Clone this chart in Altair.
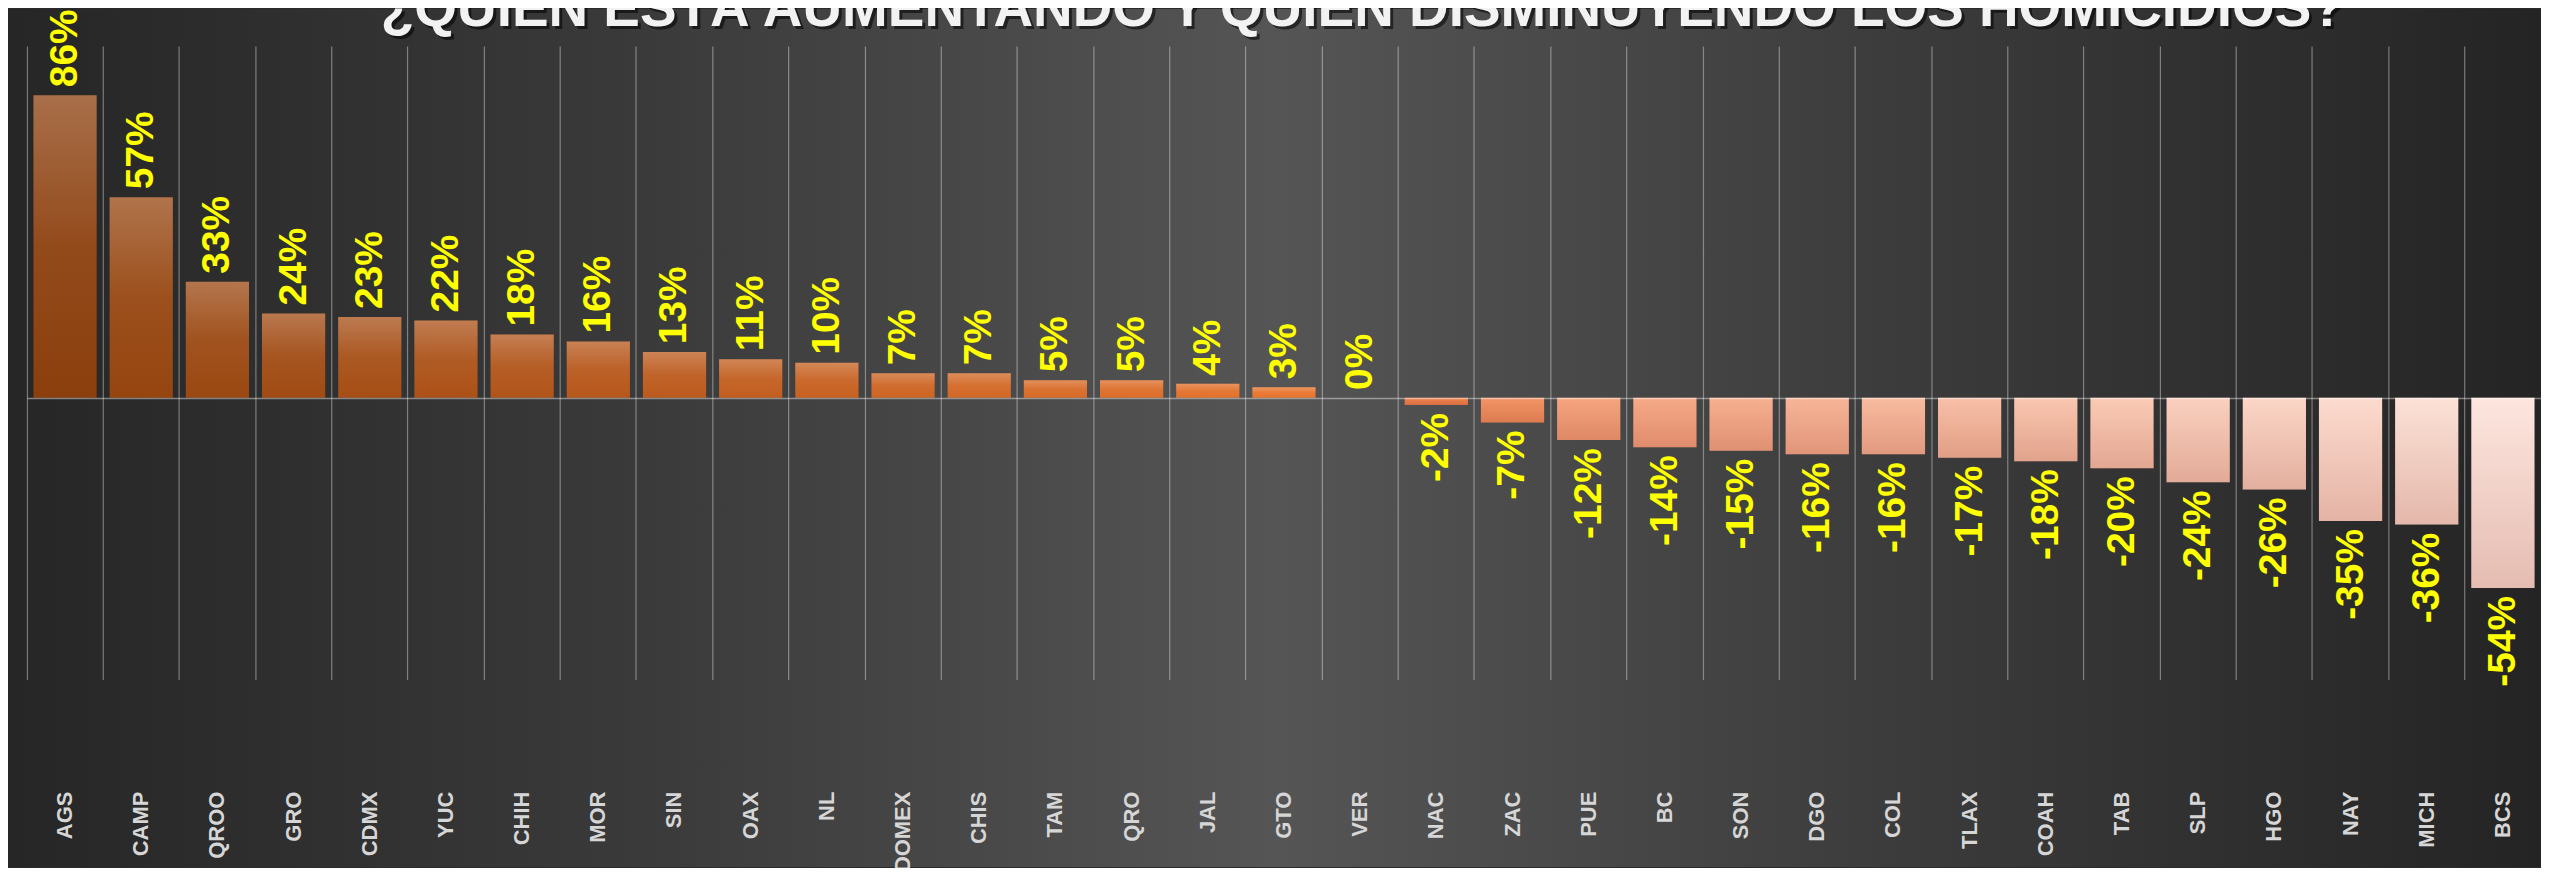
import altair as alt
import pandas as pd

# ---- data ----
states = ["AGS", "CAMP", "QROO", "GRO", "CDMX", "YUC", "CHIH", "MOR", "SIN", "OAX",
          "NL", "EDOMEX", "CHIS", "TAM", "QRO", "JAL", "GTO", "VER", "NAC", "ZAC",
          "PUE", "BC", "SON", "DGO", "COL", "TLAX", "COAH", "TAB", "SLP", "HGO",
          "NAY", "MICH", "BCS"]
values = [86, 57, 33, 24, 23, 22, 18, 16, 13, 11,
          10, 7, 7, 5, 5, 4, 3, 0, -2, -7,
          -12, -14, -15, -16, -16, -17, -18, -20, -24, -26,
          -35, -36, -54]
title_text = "¿QUIÉN ESTÁ AUMENTANDO Y QUIÉN DISMINUYENDO LOS HOMICIDIOS?"

# colour ramp by position in the ranking
rank_domain = [1, 2, 17, 18, 19, 20, 21, 33]
rank_colors = ["#8c3f0d", "#96450f", "#e8732c", "#ec7a38",
               "#ef8450", "#f29565", "#f5a57f", "#fde6de"]

df = pd.DataFrame({"state": states, "value": values})
df["rank"] = list(range(1, len(states) + 1))

FONT = "Liberation Sans"
W, H = 2520, 635
PAD_L, PAD_T, PAD_B = 19, 37, 188

grid_kw = dict(gridColor="#ffffff", gridOpacity=0.38, gridWidth=1.2, zindex=1)

base = alt.Chart(df).transform_calculate(
    label="datum.value + '%'"
).encode(
    x=alt.X("state:N", sort=states,
            scale=alt.Scale(paddingInner=0.17, paddingOuter=0.085),
            axis=alt.Axis(title=None, bandPosition=-0.1024, labelOffset=0,
                          grid=True, ticks=False, domain=False,
                          labelAngle=270, labelAlign="right", labelBaseline="middle",
                          labelPadding=112, labelFont=FONT, labelFontSize=22,
                          labelFontWeight="bold", labelColor="#d6d6d6",
                          labelOverlap=False, labelBound=False, labelFlush=False,
                          **grid_kw)),
    y=alt.Y("value:Q", scale=alt.Scale(domain=[-80, 100], nice=False),
            axis=alt.Axis(title=None, values=[0], grid=True, labels=False,
                          ticks=False, domain=False, gridColor="#ffffff",
                          gridOpacity=0.42, gridWidth=1.5, zindex=1)),
)

bg_grad = alt.LinearGradient(
    gradient="linear", x1=0, y1=0, x2=1, y2=0,
    stops=[alt.GradientStop(color="#262626", offset=0),
           alt.GradientStop(color="#3a3a3a", offset=0.25),
           alt.GradientStop(color="#555555", offset=0.5),
           alt.GradientStop(color="#3b3b3b", offset=0.75),
           alt.GradientStop(color="#242424", offset=1)])

one = alt.Data(values=[{}])
bg = alt.Chart(one).mark_rect(fill=bg_grad).encode(
    x=alt.value(-PAD_L), x2=alt.value(W), y=alt.value(-PAD_T), y2=alt.value(H + PAD_B))

title_kw = dict(font=FONT, fontSize=55, fontWeight="bold", align="center",
                baseline="alphabetic")
title_shadow = alt.Chart(one).mark_text(
    color="#000000", opacity=0.55, dx=3, dy=3, **title_kw).encode(
    x=alt.value(1339), y=alt.value(-20), text=alt.value(title_text))
title_mark = alt.Chart(one).mark_text(color="#f2f2f2", **title_kw).encode(
    x=alt.value(1339), y=alt.value(-20), text=alt.value(title_text))

bars = base.mark_bar().encode(
    color=alt.Color("rank:Q", legend=None,
                    scale=alt.Scale(domain=rank_domain, range=rank_colors,
                                    interpolate="rgb")))

pos_grad = alt.LinearGradient(
    gradient="linear", x1=0, y1=0, x2=0, y2=1,
    stops=[alt.GradientStop(color="rgba(255,255,255,0.25)", offset=0),
           alt.GradientStop(color="rgba(255,255,255,0.06)", offset=0.5),
           alt.GradientStop(color="rgba(255,255,255,0)", offset=1)])
neg_grad = alt.LinearGradient(
    gradient="linear", x1=0, y1=0, x2=0, y2=1,
    stops=[alt.GradientStop(color="rgba(133,20,0,0)", offset=0),
           alt.GradientStop(color="rgba(133,20,0,0.2)", offset=1)])

pos_overlay = base.transform_filter("datum.value > 0").mark_bar(fill=pos_grad)
neg_overlay = base.transform_filter("datum.value < 0").mark_bar(fill=neg_grad)

txt_kw = dict(angle=270, baseline="middle", font=FONT, fontSize=39,
              fontWeight="bold", color="#ffff00")
pos_labels = base.transform_filter("datum.value >= 0").mark_text(
    align="left", dx=8, **txt_kw).encode(text="label:N")
neg_labels = base.transform_filter("datum.value < 0").mark_text(
    align="right", dx=-8, **txt_kw).encode(text="label:N")

chart = alt.layer(bg, title_shadow, title_mark, bars, pos_overlay, neg_overlay,
                  pos_labels, neg_labels).properties(
    width=W, height=H,
    autosize=alt.AutoSizeParams(type="none"),
    padding={"left": PAD_L, "top": PAD_T, "right": 0, "bottom": PAD_B},
    background="#2b2b2b",
).configure_view(stroke=None)

chart.save("out.html", embed_options={"renderer": "svg", "actions": False})
